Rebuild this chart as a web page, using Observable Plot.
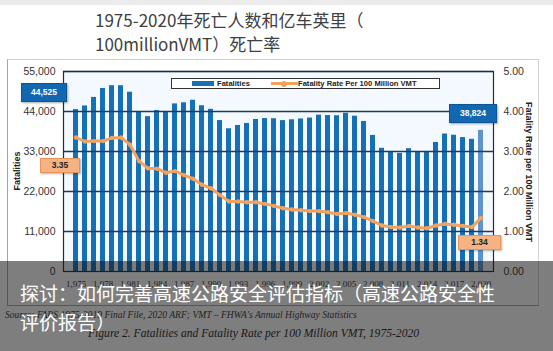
<!DOCTYPE html>
<html><head><meta charset="utf-8">
<script src="https://cdn.jsdelivr.net/npm/d3@7"></script>
<script src="https://cdn.jsdelivr.net/npm/@observablehq/plot@0.6"></script>
<style>
html,body{margin:0;padding:0;background:#fff;}
#wrap{position:relative;width:553px;height:351px;overflow:hidden;background:#fff;font-family:"Liberation Sans",Arial,sans-serif;}
.abs{position:absolute;}
#topstrip{left:0;top:0;width:553px;height:5px;background:#ececec;}
#title{left:95px;top:8px;font-family:"Noto Sans CJK SC",sans-serif;font-size:17px;line-height:24px;color:#404040;white-space:nowrap;}
#figbox{left:7px;top:59px;width:530px;height:245px;border:1px solid #a5a5a5;border-top-color:#cfcfcf;border-right-color:#d5d5d5;}
#chart{left:0;top:59px;}
.yt{font-weight:bold;font-size:9px;color:#222;white-space:nowrap;}
#ytl{left:17px;top:171px;transform:translate(-50%,-50%) rotate(-90deg);}
#ytr{left:529px;top:172px;transform:translate(-50%,-50%) rotate(90deg);}
#legend{left:171px;top:78px;width:267px;height:9px;border:1px solid #333;background:#fff;}
.lg{position:absolute;top:-1px;font-size:7.6px;font-weight:bold;color:#222;white-space:nowrap;line-height:11px;}
.box{position:absolute;font-weight:bold;font-size:8.5px;text-align:center;box-sizing:border-box;}
.bbox{background:#1268b0;color:#fff;border:1px solid #0d5594;box-shadow:1px 1px 2px rgba(0,0,0,.35);}
.obox{background:#f5b384;color:#222;border:1px solid #e8935a;box-shadow:1px 1px 2px rgba(0,0,0,.3);}
#source{left:5px;top:309px;font-family:"Liberation Serif",serif;font-style:italic;font-size:9.6px;color:#333;white-space:nowrap;}
#caption{left:88px;top:327px;font-family:"Liberation Serif",serif;font-style:italic;font-size:11.6px;color:#222;white-space:nowrap;}
#overlay{left:0;top:261px;width:553px;height:90px;background:rgba(20,20,20,0.55);}
#otext{left:20px;top:278px;font-family:"Noto Sans CJK SC",sans-serif;font-size:19px;line-height:29px;color:#fff;white-space:nowrap;}
</style></head>
<body>
<div id="wrap">
  <div id="topstrip" class="abs"></div>
  <div id="title" class="abs"></div>
  <div id="figbox" class="abs"></div>
  <div id="chart" class="abs"></div>
  <div id="ytl" class="abs yt"></div>
  <div id="ytr" class="abs yt"></div>
  <div id="legend" class="abs"></div>
  <div id="annos"></div>
  <div id="source" class="abs"></div>
  <div id="caption" class="abs"></div>
  <div id="overlay" class="abs"></div>
  <div id="otext" class="abs"></div>
</div>
<script>
// ---- data ----
const years = d3.range(1975, 2021);
const fatalities = [44525,45523,47878,50331,51093,51091,49301,43945,42589,44257,
  43825,46087,46390,47087,45582,44599,41508,39250,40150,40716,
  41817,42065,42013,41501,41717,41945,42196,43005,42884,42836,
  43510,42708,41259,37423,33883,32999,32479,33782,32893,32744,
  35484,37806,37473,36835,36355,38824];
const rates = [3.35,3.25,3.26,3.26,3.34,3.35,3.17,2.76,2.58,2.57,
  2.47,2.51,2.41,2.32,2.17,2.08,1.91,1.75,1.75,1.73,
  1.73,1.69,1.64,1.58,1.55,1.53,1.51,1.51,1.48,1.44,
  1.46,1.42,1.36,1.26,1.15,1.11,1.10,1.14,1.10,1.08,
  1.15,1.19,1.17,1.14,1.11,1.34];
const leftTicks = [0,11000,22000,33000,44000,55000];
const rightTicks = [0,1,2,3,4,5];
const xTickYears = years.filter((d,i)=> i % 3 === 0);
const titleLines = ["1975-2020年死亡人数和亿车英里（","100millionVMT）死亡率"];
const leftTitle = "Fatalities";
const rightTitle = "Fatality Rate per 100 Million VMT";
const seriesNames = ["Fatalities","Fatality Rate Per 100 Million VMT"];
const sourceText = "Source: FARS 1975-2019 Final File, 2020 ARF; VMT – FHWA's Annual Highway Statistics";
const captionText = "Figure 2. Fatalities and Fatality Rate per 100 Million VMT, 1975-2020";
const overlayLines = ["探讨：如何完善高速公路安全评估指标（高速公路安全性","评价报告）"];

// ---- build ----
const K = 11000; // rate -> left-axis units (5.00 <-> 55,000)
const rows = years.map((year,i)=>({year, fatalities: fatalities[i], rate: rates[i], r: rates[i]*K}));
const lastYear = years[years.length-1];
const BLUE = "#1670b6", LIGHT = "#5f93cf", ORANGE = "#f2a25c", GRID = "#1d3b5c";

const W = 553, H = 246, mL = 63, mR = 60, mT = 12, mB = 34;
const chart = Plot.plot({
  width: W, height: H,
  marginLeft: mL, marginRight: mR, marginTop: mT, marginBottom: mB,
  style: {fontFamily: "Liberation Sans, Arial, sans-serif", color: "#333", background: "transparent"},
  x: {type: "band", domain: years, paddingInner: 0.45, paddingOuter: 0.3},
  y: {domain: [0, 55000]},
  marks: [
    Plot.frame({fill: "#f3f9fe", stroke: null}),
    Plot.barY(rows.filter(d=>d.year!==lastYear), {x: "year", y: "fatalities", fill: BLUE}),
    Plot.barY(rows.filter(d=>d.year===lastYear), {x: "year", y: "fatalities", fill: LIGHT}),
    Plot.ruleY(leftTicks.slice(1), {stroke: GRID, strokeWidth: 1.3}),
    Plot.line(rows, {x: "year", y: "r", stroke: ORANGE, strokeWidth: 3, curve: "linear"}),
    Plot.dot(rows, {x: "year", y: "r", r: 2.2, fill: ORANGE, stroke: null}),
    Plot.frame({stroke: "#2a2a2a", strokeWidth: 1.2}),
    Plot.axisY({anchor: "left", ticks: leftTicks, tickFormat: d3.format(","), tickSize: 0, tickPadding: 8, fontSize: 10.5, label: null}),
    Plot.axisY({anchor: "right", ticks: rightTicks.map(t=>t*K), tickFormat: d=>(d/K).toFixed(2), tickSize: 0, tickPadding: 10, fontSize: 10.5, label: null}),
    Plot.axisX({ticks: xTickYears, tickSize: 0, tickPadding: 9, fontSize: 9, label: null, fontFamily: "Liberation Serif, serif"})
  ]
});
document.getElementById("chart").appendChild(chart);

document.getElementById("title").innerHTML = titleLines.join("<br>");
document.getElementById("ytl").textContent = leftTitle;
document.getElementById("ytr").textContent = rightTitle;
document.getElementById("source").textContent = sourceText;
document.getElementById("caption").textContent = captionText;
document.getElementById("otext").innerHTML = overlayLines.join("<br>");

// legend
const lg = document.getElementById("legend");
lg.innerHTML =
  `<div style="position:absolute;left:20px;top:2px;width:22px;height:5px;background:${BLUE}"></div>` +
  `<div class="lg" style="left:45px">${seriesNames[0]}</div>` +
  `<div style="position:absolute;left:99px;top:3px;width:27px;height:2.5px;background:${ORANGE}"></div>` +
  `<div style="position:absolute;left:109px;top:1.5px;width:6px;height:6px;border-radius:3px;background:${ORANGE}"></div>` +
  `<div class="lg" style="left:126px">${seriesNames[1]}</div>`;

// annotation boxes (values from data)
const fmt = d3.format(",");
const annos = [
  {text: fmt(fatalities[0]), cls: "bbox", x: 21, y: 83, w: 46, h: 19},
  {text: fmt(fatalities[fatalities.length-1]), cls: "bbox", x: 449, y: 104, w: 48, h: 19},
  {text: rates[0].toFixed(2), cls: "obox", x: 40, y: 158, w: 40, h: 15},
  {text: rates[rates.length-1].toFixed(2), cls: "obox", x: 458, y: 235, w: 43, h: 15}
];
const ad = document.getElementById("annos");
for (const a of annos) {
  const el = document.createElement("div");
  el.className = "box " + a.cls;
  el.style.left = a.x + "px"; el.style.top = a.y + "px";
  el.style.width = a.w + "px"; el.style.height = a.h + "px";
  el.style.lineHeight = (a.h - 2) + "px";
  el.textContent = a.text;
  ad.appendChild(el);
}
</script>
</body></html>
